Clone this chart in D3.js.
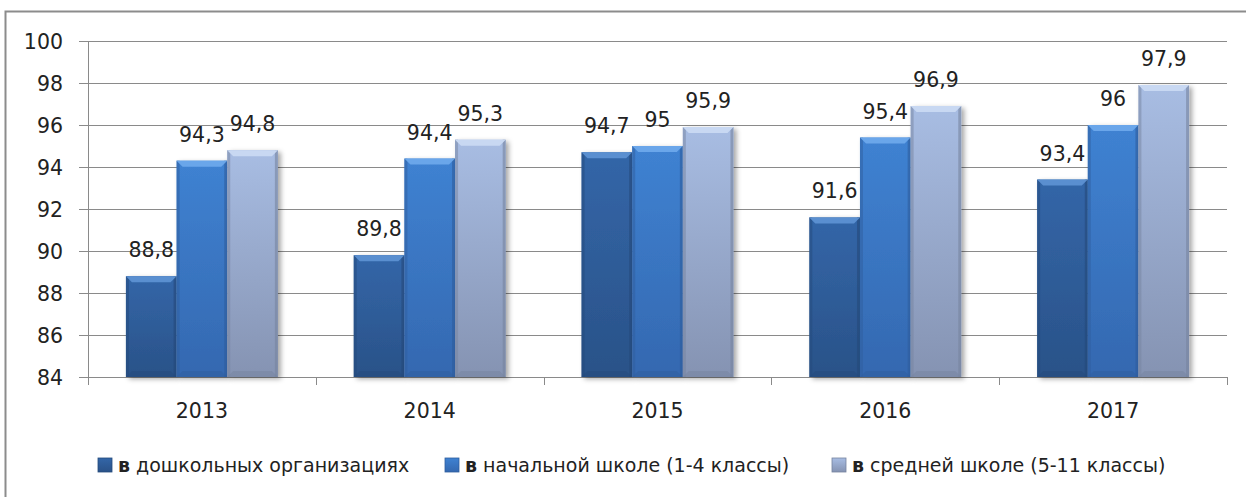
<!DOCTYPE html>
<html>
<head>
<meta charset="utf-8">
<script src="https://cdn.jsdelivr.net/npm/d3@7"></script>
<style>
  body { margin: 0; background: #fff; }
  svg text { font-family: "DejaVu Sans", sans-serif; fill: #222; }
</style>
</head>
<body>
<svg id="chart" width="1246" height="497"></svg>
<script>
const years = ["2013", "2014", "2015", "2016", "2017"];
const seriesNames = ["в дошкольных организациях", "в начальной школе (1-4 классы)", "в средней школе (5-11 классы)"];
const preschool = [88.8, 89.8, 94.7, 91.6, 93.4];
const primary = [94.3, 94.4, 95, 95.4, 96];
const secondary = [94.8, 95.3, 95.9, 96.9, 97.9];
const yTicks = [84, 86, 88, 90, 92, 94, 96, 98, 100];

const series = [preschool, primary, secondary];
// top, bottom, bevel, edge colours per series
const palette = [
    { top: "#3366a8", bottom: "#2a5288", bevel: "#5a8fd0", edge: "#244a7c" },
    { top: "#3f82d2", bottom: "#3468b0", bevel: "#6aa6ea", edge: "#2f5e9e" },
    { top: "#a8bde3", bottom: "#8593b2", bevel: "#c8d8f2", edge: "#76839f" }
];

const svg = d3.select("#chart");
const plotLeft = 88, plotRight = 1227;

// outer frame
svg.append("rect")
    .attr("x", 5.5).attr("y", 11.5)
    .attr("width", 1250).attr("height", 500)
    .attr("fill", "none").attr("stroke", "#8c8c8c").attr("stroke-width", 2);

const x0 = d3.scaleBand().domain(years).range([plotLeft, plotRight]).padding(0);
const y = d3.scaleLinear().domain([84, 100]).range([377, 41]);

const groupW = x0.bandwidth() * 0.667;
const x1 = d3.scaleBand().domain([0, 1, 2]).range([0, groupW]).padding(0);

const defs = svg.append("defs");
palette.forEach((p, i) => {
    const g = defs.append("linearGradient").attr("id", "grad" + i)
        .attr("x1", 0).attr("x2", 0).attr("y1", 0).attr("y2", 1);
    g.append("stop").attr("offset", "0%").attr("stop-color", p.top);
    g.append("stop").attr("offset", "100%").attr("stop-color", p.bottom);
});
const shadow = defs.append("filter").attr("id", "shadow")
    .attr("x", "-20%").attr("y", "-10%").attr("width", "150%").attr("height", "130%");
shadow.append("feDropShadow").attr("dx", 3).attr("dy", 2).attr("stdDeviation", 2.5)
    .attr("flood-color", "#000").attr("flood-opacity", 0.35);

// gridlines
svg.append("g")
    .selectAll("line")
    .data(yTicks)
    .join("line")
    .attr("x1", plotLeft - 9).attr("x2", plotRight)
    .attr("y1", d => Math.round(y(d)) + 0.5).attr("y2", d => Math.round(y(d)) + 0.5)
    .attr("stroke", "#8a8a8a").attr("stroke-width", 1);

// y tick labels
svg.append("g")
    .selectAll("text")
    .data(yTicks)
    .join("text")
    .attr("x", 63).attr("y", d => y(d) + 7.5)
    .attr("text-anchor", "end")
    .attr("font-size", 20.5)
    .text(d => d);

// y axis line
svg.append("line")
    .attr("x1", plotLeft + 0.5).attr("x2", plotLeft + 0.5)
    .attr("y1", y(100)).attr("y2", y(84) + 8)
    .attr("stroke", "#8a8a8a");

// x category tick marks
svg.append("g")
    .selectAll("line")
    .data(years)
    .join("line")
    .attr("x1", d => Math.round(x0(d) + x0.bandwidth()) + 0.5)
    .attr("x2", d => Math.round(x0(d) + x0.bandwidth()) + 0.5)
    .attr("y1", y(84)).attr("y2", y(84) + 8)
    .attr("stroke", "#8a8a8a");

// year labels
svg.append("g")
    .selectAll("text")
    .data(years)
    .join("text")
    .attr("x", d => x0(d) + x0.bandwidth() / 2)
    .attr("y", 418)
    .attr("text-anchor", "middle")
    .attr("font-size", 20.5)
    .text(d => d);

// bars
const groups = svg.append("g").selectAll("g")
    .data(years)
    .join("g")
    .attr("transform", d => `translate(${x0(d) + (x0.bandwidth() - groupW) / 2},0)`);

const bw = x1.bandwidth();
const bev = 6;
series.forEach((vals, si) => {
    const p = palette[si];
    const bars = groups.append("g").datum((d, i) => vals[i]);
    bars.append("rect")
        .attr("x", x1(si)).attr("y", v => y(v))
        .attr("width", bw).attr("height", v => y(84) - y(v))
        .attr("fill", `url(#grad${si})`)
        .attr("filter", "url(#shadow)");
    // side edges
    bars.append("rect")
        .attr("x", x1(si)).attr("y", v => y(v))
        .attr("width", 3).attr("height", v => y(84) - y(v))
        .attr("fill", p.edge).attr("opacity", 0.5);
    bars.append("rect")
        .attr("x", x1(si) + bw - 3).attr("y", v => y(v))
        .attr("width", 3).attr("height", v => y(84) - y(v))
        .attr("fill", p.edge).attr("opacity", 0.6);
    // top bevel
    bars.append("path")
        .attr("d", v => {
            const l = x1(si), r = x1(si) + bw, t = y(v);
            return `M${l},${t}L${r},${t}L${r - bev},${t + bev}L${l + bev},${t + bev}Z`;
        })
        .attr("fill", p.bevel);
    // bottom bevel
    bars.append("path")
        .attr("d", () => {
            const l = x1(si), r = x1(si) + bw, b = y(84);
            return `M${l},${b}L${r},${b}L${r - bev},${b - bev}L${l + bev},${b - bev}Z`;
        })
        .attr("fill", p.edge).attr("opacity", 0.5);
    // value label
    bars.append("text")
        .attr("x", x1(si) + bw / 2)
        .attr("y", v => y(v) - 19)
        .attr("text-anchor", "middle")
        .attr("font-size", 20.5)
        .text(v => String(v).replace(".", ","));
});

// legend
const legendX = [98, 445, 832];
const legend = svg.append("g").selectAll("g")
    .data(seriesNames)
    .join("g")
    .attr("transform", (d, i) => `translate(${legendX[i]},458)`);
legend.append("rect")
    .attr("width", 14).attr("height", 14)
    .attr("fill", (d, i) => `url(#grad${i})`)
    .attr("stroke", (d, i) => palette[i].edge).attr("stroke-width", 0.8);
legend.append("text")
    .attr("x", 20).attr("y", 14)
    .attr("font-size", 19)
    .each(function (d) {
        const t = d3.select(this);
        t.append("tspan").attr("font-weight", "bold").text(d.slice(0, 1));
        t.append("tspan").text(d.slice(1));
    });
</script>
</body>
</html>
